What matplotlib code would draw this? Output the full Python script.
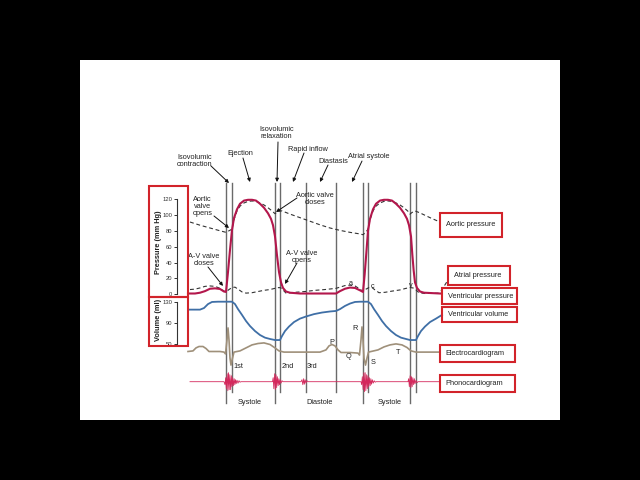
import matplotlib
matplotlib.use('Agg')
import matplotlib.pyplot as plt
from matplotlib.patches import Rectangle
from matplotlib.lines import Line2D
from matplotlib.transforms import blended_transform_factory

plt.rcParams['font.family'] = ['Liberation Sans', 'DejaVu Sans']

W, H = 640, 480

# ---- data (time in ms) ----
# ventricular pressure (mm Hg)
vp_t = [0, 42, 72, 102, 132, 162, 192, 216, 228, 240, 252, 264, 276, 294, 312, 336, 360, 384,
        408, 432, 456, 480, 498, 510, 522, 534, 546, 558, 570, 588, 612, 672, 888, 912, 942,
        972, 1002, 1032, 1050, 1060, 1070, 1080, 1092, 1110, 1128, 1152, 1176, 1200, 1224,
        1248, 1272, 1296, 1314, 1326, 1338, 1346, 1354, 1362, 1374, 1392, 1416, 1512]
vp_mmhg = [1, 1, 2, 4, 7, 7.5, 6.7, 3.5, 3, 28, 56, 81, 96, 107, 114, 118, 119, 119,
           118, 114, 109, 102, 95, 87, 73, 49, 28, 15, 8, 3.5, 2, 1, 1, 4, 7,
           8.5, 8, 5, 3, 25, 52, 80, 95, 107, 114, 118, 119, 119, 118,
           114, 109, 102, 95, 87, 73, 50, 30, 15, 8, 3.5, 2, 1]

# aortic pressure (mm Hg)
ao_t = [12, 72, 132, 192, 228, 246, 264, 276, 294, 312, 336, 360, 384, 408, 432, 456, 480,
        504, 522, 534, 546, 564, 612, 672, 732, 792, 852, 912, 972, 1032, 1050, 1068, 1080,
        1092, 1110, 1128, 1152, 1176, 1200, 1224, 1248, 1272, 1296, 1320, 1332, 1344, 1362,
        1392, 1452, 1512]
ao_mmhg = [91, 87, 83.5, 80, 78, 80, 82, 94, 105, 111, 115, 117, 117.5, 117, 115, 112.5, 109,
           105, 101.5, 103.5, 105, 105, 101, 96.5, 92, 87.5, 83.5, 80.5, 78, 76, 75, 78.5, 82,
           94, 105, 111, 115, 117, 117.5, 117, 115, 112.5, 109, 104.5, 101, 103, 105,
           102.5, 96.5, 91]

# atrial pressure (mm Hg)
at_t = [12, 42, 72, 102, 132, 162, 192, 216, 228, 246, 264, 282, 300, 324, 348, 384, 420,
        456, 492, 522, 546, 558, 570, 588, 642, 702, 762, 822, 888, 912, 942, 972, 1002,
        1032, 1050, 1068, 1086, 1104, 1122, 1146, 1182, 1224, 1272, 1308, 1332, 1350, 1368,
        1386, 1422, 1512]
at_mmhg = [6, 6.5, 8, 10, 10.5, 10, 7.5, 4, 3, 6, 8.5, 9, 6.5, 3, 1.5, 2, 3.5,
           5, 6, 7.5, 8.5, 8, 5.5, 1.5, 2.5, 3.5, 5, 6, 7.5, 9, 11, 11.5, 10.5,
           6.5, 3.5, 6.5, 8.5, 8.5, 5.5, 2, 2.5, 4, 5.5, 7.5, 8.5, 8, 5.5,
           2, 1, 1.5]

# ventricular volume (ml)
vol_t = [0, 72, 96, 120, 144, 180, 264, 282, 300, 324, 348, 372, 402, 432, 462, 492, 522,
         552, 564, 582, 606, 636, 672, 708, 756, 804, 852, 888, 912, 942, 972, 1002, 1032,
         1080, 1098, 1116, 1140, 1164, 1188, 1218, 1248, 1278, 1308, 1332, 1368, 1380, 1398,
         1422, 1452, 1488, 1524]
vol_ml = [115, 115, 118, 125.5, 129.5, 130, 130, 125.5, 116, 105, 93.5, 84, 74.5, 67, 62, 59.5,
          57.5, 57.5, 65, 74.5, 83, 91.5, 98, 102, 106.5, 109.5, 111.5, 112.5, 116, 122, 126.5,
          129.5, 130, 130, 125.5, 116, 105, 93.5, 84, 74.5, 67, 62, 59.5, 57.5, 57.5, 65, 74.5,
          83, 91.5, 98, 105]

# electrocardiogram (mV)
ecg_t = [0, 30, 48, 66, 90, 108, 126, 192, 216, 225, 234, 240, 246, 252, 258, 267, 276, 312,
         348, 384, 420, 456, 492, 522, 546, 576, 792, 828, 846, 864, 882, 900, 918, 972, 1020,
         1029, 1038, 1044, 1050, 1056, 1065, 1074, 1083, 1140, 1176, 1212, 1248, 1284, 1314,
         1338, 1368, 1512]
ecg_mv = [0, 0.03, 0.18, 0.25, 0.25, 0.15, 0, 0, -0.03, -0.12, 0.58, 1.18, 0.58, -0.33, -0.68,
          -0.33, -0.03, 0.03, 0.18, 0.33, 0.4, 0.43, 0.35, 0.18, 0.03, -0.03, -0.03, 0.08, 0.28,
          0.35, 0.28, 0.08, -0.05, -0.05, -0.08, -0.18, 0.58, 1.23, 0.58, -0.33, -0.68, -0.33,
          -0.03, 0.08, 0.23, 0.33, 0.38, 0.33, 0.2, 0.03, -0.03, -0.03]

# phonocardiogram (arbitrary units)
ph_t = [12, 216, 222, 226, 230, 235, 239, 243, 247, 251, 256, 260, 264, 268, 272, 277, 281,
        285, 289, 294, 300, 306, 312, 318,
        507, 511, 515, 520, 524, 528, 532, 536, 541, 545, 549, 553, 558, 564, 570,
        678, 684, 689, 694, 698, 703, 708, 714, 720,
        1038, 1042, 1046, 1051, 1055, 1059, 1063, 1067, 1072, 1076, 1080, 1084, 1088, 1093,
        1097, 1101, 1106, 1111, 1117, 1123, 1128,
        1320, 1324, 1328, 1333, 1337, 1341, 1345, 1349, 1354, 1358, 1362, 1368, 1374, 1380,
        1512]
ph_amp = [0, 0, -3, 4, -7, 8, -9, 9, -8, 7, -8, 6, -5, 4, -4, 3, -3,
          2, -2, 1.5, -1.5, 1, -0.5, 0,
          0, 4, -7, 8, -8, 7, -6, 5, -4, 3, -3, 2, -1.5, 1, 0,
          0, 2, -3, 3, -2.5, 2, -1.5, 1, 0,
          0, -3, 5, -8, 9, -10, 9, -9, 7, -7, 6, -5, 4, -4,
          3, -2.5, 2, -1.5, 1, -0.5, 0,
          0, 3, -5, 6, -6, 5, -5, 4, -3, 3, -2, 1.5, -1, 0,
          0]

# valve events (ms): long lines bound systole
events_long = [228, 522, 1050, 1332]
events_short = [264, 552, 708, 888, 1080, 1368]

pressure_ticks = [0, 20, 40, 60, 80, 100, 120]
volume_ticks = [50, 90, 130]

# colours
RED_BOX = '#d2232a'
VP_COL = '#b3174c'
DASH_COL = '#333333'
VOL_COL = '#3f6fa6'
ECG_COL = '#9f907a'
PHONO_COL = '#d4285c'
LINE_COL = '#6a6a6a'
TEXT_COL = '#222222'
FS = 5.3

# x mapping: pixel = 188 + t / 6
T_LEFT, T_RIGHT = (177 - 188) * 6, (440 - 188) * 6

fig = plt.figure(figsize=(6.4, 4.8), dpi=100, facecolor='black')
fig.add_artist(Rectangle((80 / W, 1 - 420 / H), 480 / W, 360 / H, transform=fig.transFigure,
                         facecolor='white', edgecolor='none', zorder=-2))


def px_axes(left, top, right, bottom):
    ax = fig.add_axes([left / W, 1 - bottom / H, (right - left) / W, (bottom - top) / H])
    ax.set_facecolor('none')
    ax.set_xlim(T_LEFT, T_RIGHT)
    return ax


def style_left_axis(ax, ticks):
    for side in ['top', 'right', 'bottom']:
        ax.spines[side].set_visible(False)
    ax.spines['left'].set_color('#333333')
    ax.spines['left'].set_linewidth(0.8)
    ax.set_xticks([])
    ax.set_yticks(ticks)
    ax.tick_params(axis='y', direction='out', length=2.5, width=0.7, labelsize=4.2, pad=0.8,
                   colors='#333333')


ax_p = px_axes(177, 199, 440, 294.3)
ax_p.set_ylim(0, 120)
style_left_axis(ax_p, pressure_ticks)

ax_v = px_axes(177, 301.7, 440, 344)
ax_v.set_ylim(50, 130)
style_left_axis(ax_v, volume_ticks)

ax_e = px_axes(177, 320, 440, 370)
ax_e.set_ylim(-0.925, 1.575)
ax_e.axis('off')

ax_s = px_axes(177, 370, 440, 394)
ax_s.set_ylim(-12.3, 11.7)
ax_s.axis('off')

# phase lines
trans = blended_transform_factory(ax_p.transData, fig.transFigure)
for t in events_long:
    fig.add_artist(Line2D([t, t], [1 - 183 / H, 1 - 403 / H], transform=trans,
                          color=LINE_COL, lw=1.0, zorder=-1))
for t in events_short:
    fig.add_artist(Line2D([t, t], [1 - 183 / H, 1 - 392 / H], transform=trans,
                          color=LINE_COL, lw=1.0, zorder=-1))

dash = (0, (3.5, 2.5))
ax_p.plot(ao_t, ao_mmhg, color=DASH_COL, lw=0.8, ls=dash, clip_on=False)
ax_p.plot(at_t, at_mmhg, color=DASH_COL, lw=0.8, ls=dash, clip_on=False)
ax_p.plot(vp_t, vp_mmhg, color=VP_COL, lw=1.5, clip_on=False)
ax_p.plot([1518, 1560], [4, 18], color=DASH_COL, lw=0.8, ls=dash, clip_on=False)
ax_v.plot(vol_t, vol_ml, color=VOL_COL, lw=1.3, clip_on=False)
ax_e.plot(ecg_t, ecg_mv, color=ECG_COL, lw=1.2, clip_on=False)
ax_s.plot(ph_t, ph_amp, color=PHONO_COL, lw=0.6, clip_on=False)

# phase names and valve notes
notes = [
    ('Isovolumic\ncontraction', 42, 168),
    ('Ejection', 315, 177),
    ('Isovolumic\nrelaxation', 531, 203),
    ('Rapid inflow', 717, 182),
    ('Diastasis', 870, 167),
    ('Atrial systole', 1086, 174),
    ('Aortic\nvalve\nopens', 87, 110.6),
    ('Aortic valve\ncloses', 762, 120),
    ('A-V valve\ncloses', 96, 43),
    ('A-V valve\nopens', 684, 47),
    ('a', 978, 13),
    ('c', 1110, 9.2),
    ('v', 1338, 10.5),
]
for label, t, y in notes:
    ax_p.text(t, y, label, ha='center', va='center', fontsize=FS, color=TEXT_COL,
              linespacing=1.0, clip_on=False)

arrows = [
    ((138, 161.6), (246, 140.1)),
    ((330, 171.6), (372, 141.4)),
    ((540, 191.8), (534, 141.4)),
    ((696, 177.9), (630, 141.4)),
    ((840, 162.8), (792, 141.4)),
    ((1044, 167.8), (984, 141.4)),
    ((156, 98.6), (246, 83.5)),
    ((654, 121.3), (528, 103.6)),
    ((120, 34.4), (210, 10.5)),
    ((654, 39.4), (582, 13)),
]
for tail, head in arrows:
    ax_p.annotate('', xy=head, xytext=tail, annotation_clip=False,
                  arrowprops=dict(arrowstyle='-|>', color='#111111', lw=0.7,
                                  mutation_scale=5, shrinkA=0, shrinkB=0))

ecg_labels = [('P', 864, 0.475), ('Q', 960, -0.275), ('R', 1002, 1.125),
              ('S', 1110, -0.525), ('T', 1260, -0.075)]
for label, t, y in ecg_labels:
    ax_e.text(t, y, label, ha='center', va='center', fontsize=FS, color=TEXT_COL, clip_on=False)

sound_labels = [('1st', 270), ('2nd', 564), ('3rd', 714)]
for label, t in sound_labels:
    ax_e.text(t, -0.725, label, ha='left', va='center', fontsize=FS, color=TEXT_COL,
              clip_on=False)

phase_labels = [('Systole', 372), ('Diastole', 789), ('Systole', 1212)]
for label, t in phase_labels:
    ax_s.text(t, -20.3, label, ha='center', va='center', fontsize=FS, color=TEXT_COL,
              clip_on=False)

# red boxes on the left with axis titles
for top, bottom in [(186, 297), (297, 346)]:
    fig.add_artist(Rectangle((149 / W, 1 - bottom / H), 39 / W, (bottom - top) / H,
                             transform=fig.transFigure, fill=False, edgecolor=RED_BOX,
                             linewidth=1.5, zorder=3))
fig.text(158.5 / W, 1 - 242 / H, 'Pressure (mm Hg)', rotation=90, ha='center', va='center',
         fontsize=5.3, fontweight='bold', color=TEXT_COL)
fig.text(158.5 / W, 1 - 320 / H, 'Volume (ml)', rotation=90, ha='center', va='center',
         fontsize=5.3, fontweight='bold', color=TEXT_COL)

# red boxes on the right naming each trace
right_boxes = [
    ('Aortic pressure', 440, 213, 502, 237),
    ('Atrial pressure', 448, 266, 510, 285),
    ('Ventricular pressure', 442, 288, 517, 304),
    ('Ventricular volume', 442, 307, 517, 322),
    ('Electrocardiogram', 440, 345, 515, 362),
    ('Phonocardiogram', 440, 375, 515, 392),
]
for label, x0, y0, x1, y1 in right_boxes:
    fig.add_artist(Rectangle((x0 / W, 1 - y1 / H), (x1 - x0) / W, (y1 - y0) / H,
                             transform=fig.transFigure, fill=False, edgecolor=RED_BOX,
                             linewidth=1.5, zorder=3))
    fig.text((x0 + 5.5) / W, 1 - (y0 + y1) / 2 / H, label, ha='left', va='center',
             fontsize=FS, color=TEXT_COL)

fig.savefig('out.png', dpi=100, facecolor='black')
